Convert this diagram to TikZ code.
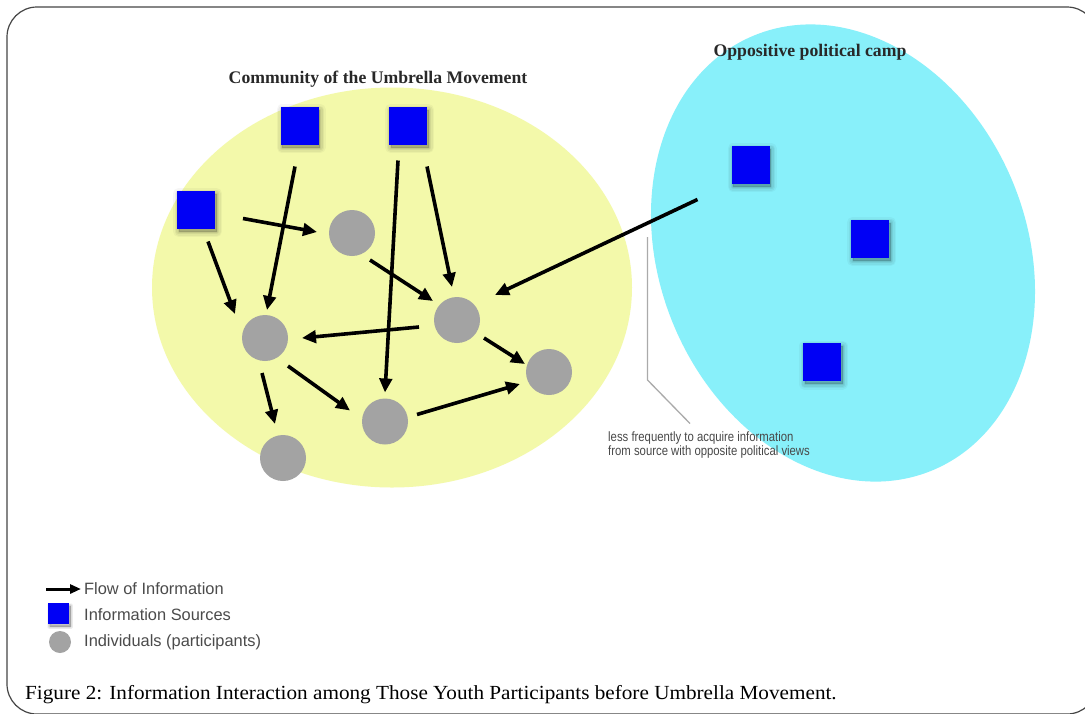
\documentclass[tikz,border=0pt]{standalone}
\usepackage{fontspec}
\setmainfont{Liberation Serif}
\newfontfamily\legfont{Liberation Sans}
\newfontfamily\notefont[FakeStretch=0.84]{Liberation Sans}
\newfontfamily\capfont[FakeStretch=1.06]{Liberation Serif}
\usetikzlibrary{arrows.meta,calc}
\definecolor{umbyellow}{RGB}{243,249,170}
\definecolor{campcyan}{RGB}{136,240,250}
\definecolor{srcblue}{RGB}{0,0,245}
\definecolor{indgray}{RGB}{163,163,163}
\definecolor{framegray}{RGB}{70,70,70}
\definecolor{textdark}{RGB}{40,40,40}
\definecolor{legtext}{RGB}{75,75,75}
\definecolor{pointergray}{RGB}{170,170,170}
\begin{document}
\begin{tikzpicture}[x=1pt,y=1pt,
  shadowlayer/.style 2 args={preaction={fill=black, draw=black, line width=#1, line join=round,
      opacity=#2, transform canvas={shift={(1.5pt,-3pt)}}}},
  softshadow/.style={
    shadowlayer={#1*2.2}{0.035},
    shadowlayer={#1*1.6}{0.045},
    shadowlayer={#1*1.0}{0.06},
    shadowlayer={#1*0.4}{0.07}},
  source/.style={rectangle, fill=srcblue, minimum size=38pt, inner sep=0pt, softshadow=5pt},
  smallsource/.style={rectangle, fill=srcblue, minimum size=21pt, inner sep=0pt, softshadow=2.5pt},
  person/.style={circle, fill=indgray, minimum size=46pt, inner sep=0pt},
  smallperson/.style={circle, fill=indgray, minimum size=22pt, inner sep=0pt},
  flow/.style={line width=3.6pt, -{Triangle[length=14pt,width=12.5pt]}},
  legflow/.style={line width=3pt, -{Triangle[length=11pt,width=9pt]}},
  titletext/.style={font=\fontsize{17.7}{20}\selectfont\bfseries, text=textdark, inner sep=0pt},
  legtextstyle/.style={font=\legfont\fontsize{16.4}{18}\selectfont, text=legtext, inner sep=0pt, anchor=west},
  notetext/.style={font=\notefont\fontsize{13.5}{12.5}\selectfont, text=textdark!85, inner sep=0pt, align=left},
  captext/.style={font=\capfont\fontsize{20}{24}\selectfont, text=black, inner sep=0pt},
  pointer/.style={draw=pointergray, line width=1.3pt},
]
\useasboundingbox (0,0) rectangle (1085,-713);
\fill[white] (0,0) rectangle (1085,-713);
\draw[framegray, line width=1.2pt, rounded corners=30pt] (7,-7) rectangle (1097,-714);

% ellipses
\fill[umbyellow] (392,-287.5) ellipse [x radius=240pt, y radius=200pt];
\fill[campcyan, rotate around={22:(843,-253)}] (843,-253) ellipse [x radius=184pt, y radius=235pt];

% titles
\node[titletext] (T1) at (378,-79) {Community of the Umbrella Movement};
\node[titletext] (T2) at (810,-52) {Oppositive political camp};

% information sources
\node[source] (S1) at (299.5,-125.5) {};
\node[source] (S2) at (408,-125.5) {};
\node[source] (S3) at (196,-209.5) {};
\node[source] (S4) at (750.5,-164.5) {};
\node[source] (S5) at (870,-238.5) {};
\node[source] (S6) at (822,-362) {};

% individuals
\node[person] (C1) at (352,-233) {};
\node[person] (C2) at (457,-320) {};
\node[person] (C3) at (265,-338) {};
\node[person] (C4) at (549,-372) {};
\node[person] (C5) at (385,-421.5) {};
\node[person] (C6) at (283,-458) {};

% flows
\draw[flow] ($(S3)+(47,-9)$) -- ($(C1)+(-35,1)$);
\draw[flow] ($(S3)+(12,-32)$) -- ($(C3)+(-30,24)$);
\draw[flow] ($(S1)+(-4.5,-41)$) -- ($(C3)+(2,28)$);
\draw[flow] ($(S2)+(-10,-35)$) -- ($(C5)+(0,29)$);
\draw[flow] ($(S2)+(19,-41)$) -- ($(C2)+(-5,33)$);
\draw[flow] ($(C1)+(18,-27)$) -- ($(C2)+(-24,19)$);
\draw[flow] ($(C2)+(-38,-7)$) -- ($(C3)+(37,0)$);
\draw[flow] ($(C2)+(27,-18)$) -- ($(C4)+(-24,8)$);
\draw[flow] ($(C3)+(23,-28)$) -- ($(C5)+(-35,11)$);
\draw[flow] ($(C3)+(-3,-35)$) -- ($(C6)+(-8,34)$);
\draw[flow] ($(C5)+(32,7)$) -- ($(C4)+(-29,-12)$);
\draw[flow] ($(S4)+(-53,-35)$) -- ($(C2)+(38,25)$);

% note with pointer
\node[notetext, anchor=north west] (N) at (608,-431.5) {less frequently to acquire information\\from source with opposite political views};
\coordinate (P0) at (647.5,-237);
\draw[pointer] (P0) -- ($(P0)+(0,-143)$) -- ($(N.north west)+(82,8)$);

% legend
\coordinate (LA0) at (46,-589);
\coordinate (LA1) at (81,-589);
\draw[legflow] (LA0) -- (LA1);
\node[smallsource] (LS) at (58.5,-613) {};
\node[smallperson] (LP) at (60,-642) {};
\node[legtextstyle] (L1) at (84,-589) {Flow of Information};
\node[legtextstyle] (L2) at (84,-615) {Information Sources};
\node[legtextstyle] (L3) at (84,-642) {Individuals (participants)};

% caption
\node[captext, anchor=base west] (CAP) at (25,-699) {Figure 2: Information Interaction among Those Youth Participants before Umbrella Movement.};
\end{tikzpicture}
\end{document}
